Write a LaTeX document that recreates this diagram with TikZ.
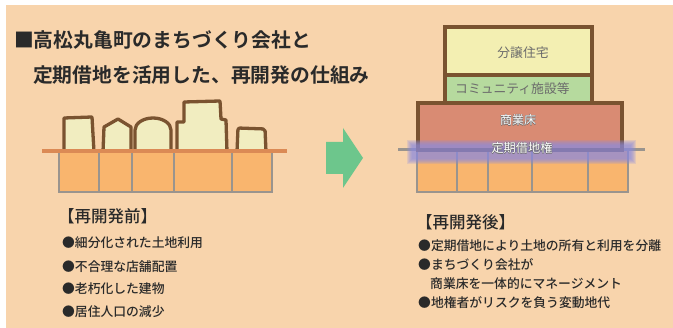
\documentclass[tikz,border=0pt]{standalone}
\usepackage{fontspec}
\newfontfamily\jp{Noto Sans CJK JP}
\newfontfamily\jpmid{Noto Sans CJK JP Medium}
\newfontfamily\jpbold{Noto Sans CJK JP Bold}
\definecolor{paper}{HTML}{F8D4AC}
\definecolor{groundline}{HTML}{DB8A55}
\definecolor{lotfill}{HTML}{F9B56E}
\definecolor{lotedge}{HTML}{9A948E}
\definecolor{brown}{HTML}{7A5330}
\definecolor{cream}{HTML}{F1EDC0}
\definecolor{housing}{HTML}{F3EFB2}
\definecolor{community}{HTML}{B6DA9E}
\definecolor{retail}{HTML}{D98B73}
\definecolor{arrowgreen}{HTML}{6DC68C}
\definecolor{leaseband}{HTML}{8A8AE0}
\definecolor{ink}{HTML}{2A2A2A}
\definecolor{labelgray}{HTML}{6B6B6B}
% white lettering with a thin grey halo
\newcommand\haloed[1]{\leavevmode
  \rlap{\kern-0.45pt\textcolor{labelgray}{#1}}%
  \rlap{\kern0.45pt\textcolor{labelgray}{#1}}%
  \rlap{\raisebox{0.45pt}{\textcolor{labelgray}{#1}}}%
  \rlap{\raisebox{-0.45pt}{\textcolor{labelgray}{#1}}}%
  \textcolor{white}{#1}}
\tikzset{
  lot/.style={fill=lotfill, draw=lotedge, line width=2.5pt},
  bldg/.style={fill=cream, draw=brown, line width=3.3pt, line join=round},
  floor/.style={draw=brown, line width=3.5pt},
  title/.style={anchor=west, inner sep=0pt, text=ink, font=\jpbold\fontsize{19.8}{22}\selectfont},
  head/.style={anchor=west, inner sep=0pt, text=ink, font=\jpmid\fontsize{16.5}{19}\selectfont},
  item/.style={anchor=west, inner sep=0pt, text=ink, font=\jpmid\fontsize{12.8}{15}\selectfont},
  boxlabel/.style={inner sep=0pt, text=labelgray, font=\jp\fontsize{12.8}{15}\selectfont},
}
\begin{document}
\begin{tikzpicture}[x=1pt, y=-1pt]
  % canvas
  \fill[white] (0,0) rectangle (673,328);
  \useasboundingbox (0,0) rectangle (673,328);
  \fill[paper] (6,5) rectangle (673,328);

  % title
  \node[title] (t1) at (14,40) {■高松丸亀町のまちづくり会社と};
  \node[title] (t2) at (33,75) {定期借地を活用した、再開発の仕組み};

  % ---- before: small plots and old buildings ----
  \draw[bldg] (64,152) -- (64,118) -- (92,117) -- (94,152);
  \draw[bldg] (103,152) -- (104,127) -- (118,119) -- (131,127) -- (131,152);
  \draw[bldg] (135,152) -- (135,130) arc[start angle=180, end angle=360, x radius=18, y radius=12] -- (171,152);
  \draw[bldg] (177,152) -- (177,122) -- (184,122) -- (184,102) -- (220,101) -- (221,119) -- (226,120) -- (227,152);
  \draw[bldg, rounded corners=2pt] (237,152) -- (238,128) -- (265,129) -- (266,152);
  \foreach \a/\b in {59/99, 99/132, 132/174, 174/232, 232/272}
    \draw[lot] (\a,152) rectangle (\b,192);
  \draw[groundline, line width=4pt] (42,151) -- (287,151);

  % ---- arrow ----
  \fill[arrowgreen] (326,142) -- (343,142) -- (343,128) -- (363,158) -- (343,188) -- (343,174) -- (326,174) -- cycle;

  % ---- after: joined plots and new building ----
  \draw[lotedge, line width=3pt] (398,150) -- (645,150);
  \foreach \a/\b in {417/457, 457/488, 488/532, 532/588, 588/628}
    \draw[lot] (\a,150) rectangle (\b,192);
  \draw[floor, fill=retail] (418,103) rectangle (622,150);
  \draw[floor, fill=community] (445,75) rectangle (592,103);
  \draw[floor, fill=housing] (445,27) rectangle (592,75);
  % soft leasehold band
  \foreach \d in {5,4,3,2,1,0}
    \fill[leaseband, opacity=0.2] (412-\d,145-\d) rectangle (631+\d,159+\d);

  \node[boxlabel] (housing) at (523,53) {分譲住宅};
  \node[boxlabel, anchor=west] (community) at (455,89) {コミュニティ施設等};
  \node[boxlabel, font=\jp\fontsize{12}{14}\selectfont] (retail) at (518,120) {\haloed{商業床}};
  \node[boxlabel, font=\jp\fontsize{12.2}{14}\selectfont] (lease) at (522,148) {\haloed{定期借地権}};

  % ---- captions ----
  \node[head] (before) at (58,216) {【再開発前】};
  \node[item] (b1) at (62,243) {●細分化された土地利用};
  \node[item] (b2) at (62,267) {●不合理な店舗配置};
  \node[item] (b3) at (62,289) {●老朽化した建物};
  \node[item] (b4) at (62,312) {●居住人口の減少};

  \node[head] (after) at (416,222) {【再開発後】};
  \node[item] (a1) at (418,246) {●定期借地により土地の所有と利用を分離};
  \node[item] (a2) at (418,265) {●まちづくり会社が};
  \node[item] (a3) at (430,284) {商業床を一体的にマネージメント};
  \node[item] (a4) at (418,303) {●地権者がリスクを負う変動地代};
\end{tikzpicture}
\end{document}
